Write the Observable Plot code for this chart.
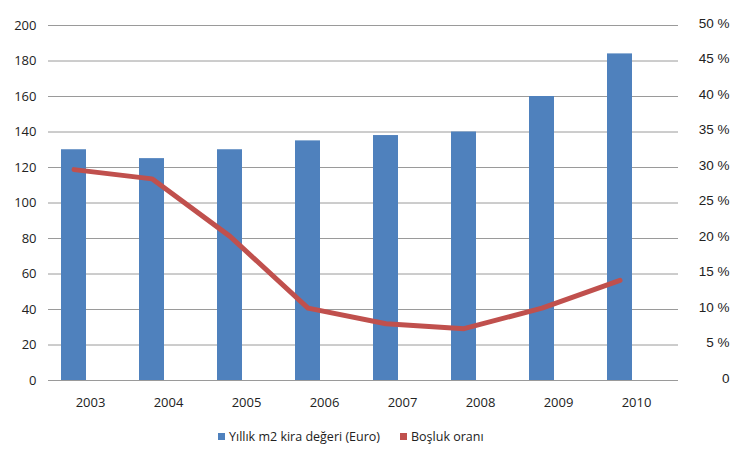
<!DOCTYPE html>
<html>
<head>
<meta charset="utf-8">
<script src="https://cdn.jsdelivr.net/npm/d3@7"></script>
<script src="https://cdn.jsdelivr.net/npm/@observablehq/plot@0.6"></script>
<style>
  body { margin: 0; background: #fff; width: 747px; height: 456px; overflow: hidden; }
  #legend { display: flex; justify-content: flex-start; align-items: center; height: 20px; font-family: "Open Sans", sans-serif; font-size: 12.5px; color: #222; padding-left: 218px; }
  .sw { display: inline-block; width: 7px; height: 7px; margin-right: 4px; }
  .item { display: flex; align-items: center; margin-right: 20px; }
</style>
</head>
<body>
<div id="chart"></div>
<div id="legend"></div>
<script>
const years = ["2003","2004","2005","2006","2007","2008","2009","2010"];
const rent = [130, 125, 130, 135, 138, 140, 160, 184];
const vacancy = [29.7, 28.4, 20.3, 10.2, 8.0, 7.3, 10.2, 14.1];
const leftTicks = [0,20,40,60,80,100,120,140,160,180,200];
const rightTickLabels = ["0","5 %","10 %","15 %","20 %","25 %","30 %","35 %","40 %","45 %","50 %"];
const seriesNames = ["Yıllık m2 kira değeri (Euro)", "Boşluk oranı"];
const colors = ["#4F81BD", "#C0504D"];

const data = years.map((y, i) => ({year: y, rent: rent[i], vac: vacancy[i]}));
const ratio = 200 / 50; // right axis 0–50 % mapped onto left 0–200

const chart = Plot.plot({
  width: 747,
  height: 426,
  marginTop: 25,
  marginBottom: 46,
  marginLeft: 48,
  marginRight: 69,
  style: {fontFamily: "'Open Sans', sans-serif", fontSize: "13px", color: "#222"},
  x: {domain: years, padding: 0, label: null},
  y: {domain: [0, 200], label: null},
  marks: [
    Plot.gridY(leftTicks, {stroke: "#9a9a9a", strokeOpacity: 1, strokeWidth: 1}),
    Plot.barY(data, {x: "year", y: "rent", fill: colors[0], insetLeft: 10, insetRight: 43}),
    Plot.line(data, {x: "year", y: d => d.vac * ratio, stroke: colors[1], strokeWidth: 5, dx: -16.5, strokeLinejoin: "round"}),
    Plot.axisY(leftTicks, {anchor: "left", tickSize: 0, tickPadding: 12, label: null, fontSize: 13}),
    Plot.axisY(leftTicks, {anchor: "right", tickSize: 0, tickPadding: 51, label: null, textAnchor: "end", dy: -2,
      tickFormat: (d, i) => rightTickLabels[i], fontFamily: "'Liberation Sans', Arial, sans-serif", fontSize: 13.5}),
    Plot.axisX({tickSize: 0, tickPadding: 17, label: null, fontSize: 13})
  ]
});
document.getElementById("chart").appendChild(chart);

const legend = document.getElementById("legend");
seriesNames.forEach((n, i) => {
  const it = document.createElement("span");
  it.className = "item";
  it.innerHTML = `<span class="sw" style="background:${colors[i]}"></span><span>${n}</span>`;
  legend.appendChild(it);
});
</script>
</body>
</html>
